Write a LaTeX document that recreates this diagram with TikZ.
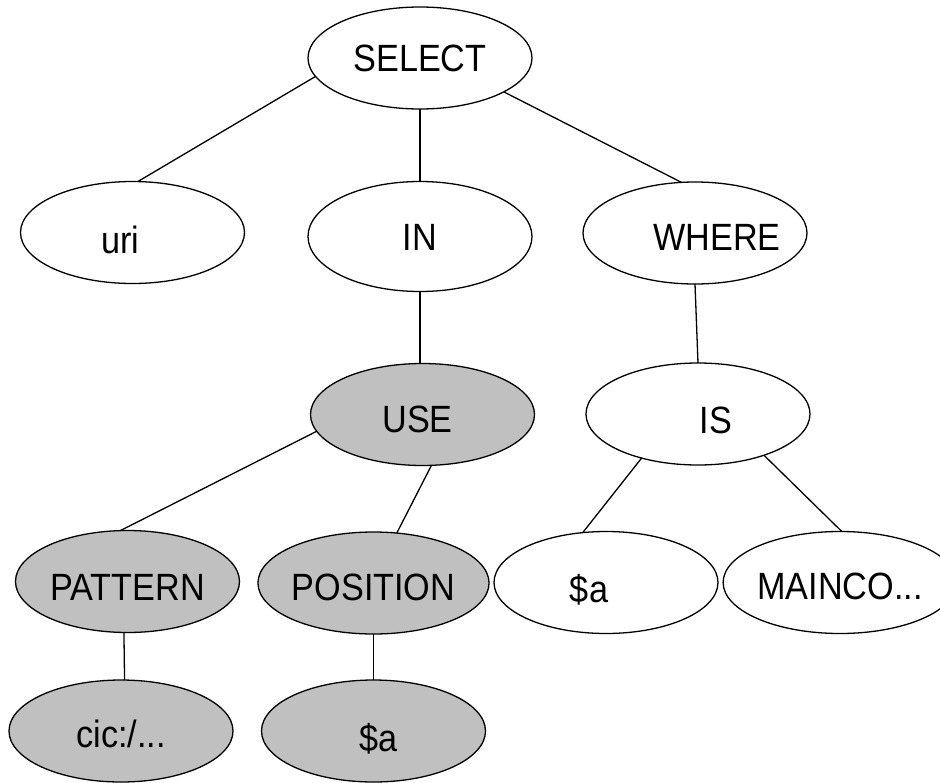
\documentclass[tikz,border=0pt]{standalone}
\usepackage{fontspec}
\setmainfont{Liberation Sans}[FakeStretch=0.9]
\usetikzlibrary{shapes.geometric}
\definecolor{nodegray}{RGB}{192,192,192}
\newcommand\shtext[2]{\hspace*{#1}#2\hspace*{-#1}}
\begin{document}
\begin{tikzpicture}[x=1pt,y=-1pt,
  tn/.style={ellipse,draw,line width=1.3pt,minimum width=224pt,minimum height=102pt,
    inner sep=0pt,outer sep=0pt,font=\fontsize{38}{40}\selectfont,text depth=0pt,fill=white},
  gr/.style={tn,fill=nodegray},
  bl/.style={text height=#1},
  conn/.style={line width=1.3pt}]
\clip (0,0) rectangle (940,782);
\node[tn,bl=27pt] (select) at (420,58) {SELECT};
\node[tn,bl=41pt] (uri) at (132.5,232.5) {\shtext{-12pt}{uri}};
\node[tn,bl=27pt,minimum height=110pt] (in) at (420,236.5) {IN};
\node[tn,bl=34pt] (where) at (695,233) {\shtext{22pt}{WHERE}};
\node[tn,bl=38pt] (is) at (698,414) {\shtext{18pt}{IS}};
\node[gr,bl=35pt] (use) at (422.5,414.5) {\shtext{-5pt}{USE}};
\node[gr,bl=37pt] (pattern) at (127.5,581.5) {PATTERN};
\node[gr,bl=34pt] (position) at (373.5,583) {POSITION};
\node[gr,bl=32pt] (cic) at (121,731) {cic:/...};
\node[gr,bl=41pt] (ga) at (373.5,731) {\shtext{5pt}{\$a}};
\node[tn,bl=39pt] (wa) at (606,582.5) {\shtext{-17pt}{\$a}};
\node[tn,bl=33pt] (mainco) at (840,582.5) {MAINCO...};
\draw[conn] (select.190.4) -- (uri.84.5);
\draw[conn] (select.south) -- (in.north);
\draw[conn] (select.338.4) -- (where.105.4);
\draw[conn] (in.south) -- (in.south |- use.north);
\draw[conn] (use.189.3) -- (pattern.98.3);
\draw[conn] (use.280.5) -- (position.65.8);
\draw[conn] (where.south) -- (is.north);
\draw[conn] (is.218.3) -- (wa.115);
\draw[conn] (is.328.5) -- (mainco.88);
\draw[conn] (pattern.266) -- (cic.86.6);
\draw[conn] (position.south) -- (ga.north);
\end{tikzpicture}
\end{document}
